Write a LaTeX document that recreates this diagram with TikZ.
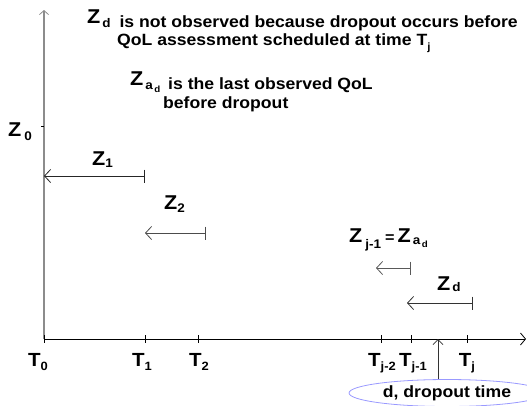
\documentclass[tikz,border=0pt]{standalone}
\usepackage{fontspec}
\setmainfont{Liberation Sans}[FakeStretch=1.08]
\usetikzlibrary{arrows.meta,shapes.geometric}
\newcommand{\bigZ}[3]{{\fontsize{20}{20}\selectfont Z}\hspace{#3}\raisebox{#2}{\fontsize{12.5}{12.5}\selectfont #1}}
\newcommand{\raisedZ}[1]{\raisebox{4pt}{\fontsize{20}{20}\selectfont Z}\hspace{2pt}{\fontsize{12.5}{12.5}\selectfont #1}}
\newcommand{\bigT}[2]{{\fontsize{19}{19}\selectfont T}\raisebox{#2}{\fontsize{12}{12}\selectfont #1}}
\newcommand{\subad}{a\hspace{1.5pt}\raisebox{-0.5ex}{\fontsize{9}{9}\selectfont d}}
\begin{document}
\begin{tikzpicture}[x=1pt,y=-1pt,
  txt/.style={anchor=base west,inner sep=0pt,font=\bfseries\fontsize{16.3}{16.3}\selectfont},
  lbl/.style={anchor=base west,inner sep=0pt,font=\bfseries},
  tlbl/.style={anchor=base,inner sep=0pt,font=\bfseries},
  interval/.style={line width=0.8pt,{Straight Barb[length=6pt,width=13pt]}-{Bar[width=13pt]}},
  tickmark/.style={line width=0.8pt}]
\useasboundingbox (0,0) rectangle (527,405);
% axes
\coordinate (O) at (44,339);
\coordinate (ytop) at (44,10);
\coordinate (xend) at (526,339);
\draw[gray!90,line width=1.6pt,-{Straight Barb[length=4pt,width=9pt,line width=0.8pt]}] (O) -- (ytop);
\draw[black,line width=1pt,-{Straight Barb[length=5pt,width=12pt,line width=0.8pt]}] (O) -- (xend);
% ticks
\foreach \n/\x in {t0/44,t1/145,t2/198,tjm2/381,tjm1/411,tj/467}{
  \coordinate (\n) at (\x,339);
  \draw[tickmark] (\x,335) -- (\x,343);
}
\coordinate (z0t) at (44,126);
\draw[tickmark] (41,126) -- (z0t);
% texts
\node[txt] (l1) at (87,27) {\raisedZ{d}\hspace{4pt} is not observed because dropout occurs before};
\node[txt] (l2) at (117,45) {QoL assessment scheduled at time T\raisebox{-0.6ex}{\fontsize{10.5}{10.5}\selectfont j}};
\node[txt] (l3) at (130,89) {\raisedZ{\subad}\hspace{3pt} is the last observed QoL};
\node[txt] (l4) at (163,108) {before dropout};
\node[lbl] (z0) at (8,136) {\bigZ{0}{-0.8ex}{3pt}};
\node[lbl] (z1) at (92,165) {\bigZ{1}{-0.5ex}{0pt}};
\node[lbl] (z2) at (164,209) {\bigZ{2}{-0.6ex}{0pt}};
\node[lbl] (zj1) at (349,242) {\bigZ{j-1}{-1.2ex}{3pt}\hspace{4pt}{\fontsize{15}{15}\selectfont =}\hspace{3pt}\bigZ{\subad}{-0.5ex}{2pt}};
\node[lbl] (zd) at (437,290) {\bigZ{d}{-0.3ex}{2pt}};
% time labels
\node[tlbl] (T0) at (38,366) {\bigT{0}{-0.8ex}};
\node[tlbl] (T1) at (142,366) {\bigT{1}{-0.8ex}};
\node[tlbl] (T2) at (199,366) {\bigT{2}{-0.8ex}};
\node[tlbl] (Tjm2) at (382,366) {\bigT{j-2}{-0.8ex}};
\node[tlbl] (Tjm1) at (413,366) {\bigT{j-1}{-0.8ex}};
\node[tlbl] (Tj) at (467,366) {\bigT{j}{-0.8ex}};
% intervals
\coordinate (a1) at (145,176); \coordinate (b1) at (44,176);
\coordinate (a2) at (206,233); \coordinate (b2) at (145,233);
\coordinate (a3) at (411,268); \coordinate (b3) at (376,268);
\coordinate (a4) at (473,303); \coordinate (b4) at (407,303);
\draw[interval,black!85] (b1) -- (a1);
\draw[interval,black!70] (b2) -- (a2);
\draw[interval,black!65] (b3) -- (a3);
\draw[interval,black!80] (b4) -- (a4);
% dropout
\node[ellipse,draw=blue!40!white,line width=0.8pt,minimum width=196pt,minimum height=27pt,inner sep=0pt,
  font=\bfseries\fontsize{16.3}{16.3}\selectfont] (drop) at (447,393) {d, dropout time};
\coordinate (dtop) at (438,339);
\draw[black!80,line width=0.9pt,-{Straight Barb[length=5pt,width=10pt,line width=0.8pt]}] (drop.north -| dtop) -- (dtop);
\end{tikzpicture}
\end{document}
